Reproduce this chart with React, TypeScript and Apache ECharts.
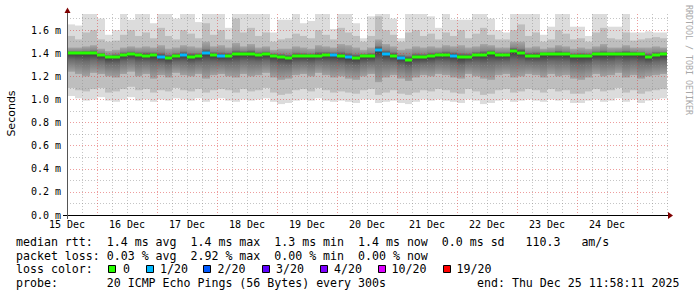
import React, { useEffect, useRef } from 'react';
import * as echarts from 'echarts';

// ---- data ----
const dayLabels = ['15 Dec', '16 Dec', '17 Dec', '18 Dec', '19 Dec', '20 Dec', '21 Dec', '22 Dec', '23 Dec', '24 Dec'];
const stepHours = 3;

const median = [
  1.40, 1.40, 1.40, 1.40, 1.385, 1.365, 1.37, 1.385, 1.39, 1.385,
  1.38, 1.385, 1.37, 1.36, 1.375, 1.385, 1.37, 1.375, 1.40, 1.385,
  1.375, 1.38, 1.39, 1.395, 1.395, 1.385, 1.39, 1.38, 1.37, 1.36,
  1.375, 1.375, 1.375, 1.38, 1.385, 1.385, 1.375, 1.365, 1.36, 1.375,
  1.375, 1.43, 1.395, 1.38, 1.36, 1.345, 1.365, 1.365, 1.375, 1.385,
  1.385, 1.38, 1.365, 1.37, 1.385, 1.385, 1.40, 1.385, 1.385, 1.42,
  1.405, 1.38, 1.38, 1.39, 1.39, 1.395, 1.39, 1.375, 1.375, 1.375,
  1.39, 1.39, 1.39, 1.395, 1.395, 1.395, 1.39, 1.37, 1.385, 1.39,
];
const lostPings = [
  0, 0, 0, 0, 0, 0, 0, 0, 0, 0,
  0, 0, 1, 0, 0, 1, 0, 0, 1, 0,
  1, 0, 0, 0, 0, 0, 0, 0, 0, 0,
  0, 0, 0, 0, 0, 1, 0, 1, 0, 0,
  0, 1, 1, 0, 1, 0, 0, 0, 0, 0,
  0, 1, 0, 0, 0, 0, 0, 0, 0, 0,
  0, 0, 0, 0, 0, 0, 0, 0, 0, 0,
  0, 0, 0, 0, 0, 0, 0, 0, 0, 0,
];
const smokeTop = [
  1.65, 1.64, 1.74, 1.74, 1.70, 1.56, 1.60, 1.74, 1.69, 1.74,
  1.74, 1.66, 1.74, 1.74, 1.70, 1.74, 1.74, 1.67, 1.74, 1.74,
  1.74, 1.62, 1.74, 1.74, 1.74, 1.74, 1.74, 1.58, 1.69, 1.69,
  1.74, 1.66, 1.68, 1.74, 1.74, 1.61, 1.74, 1.74, 1.66, 1.53,
  1.72, 1.74, 1.74, 1.70, 1.53, 1.74, 1.74, 1.74, 1.72, 1.62,
  1.74, 1.69, 1.69, 1.69, 1.74, 1.74, 1.70, 1.60, 1.58, 1.74,
  1.74, 1.74, 1.74, 1.56, 1.63, 1.74, 1.74, 1.63, 1.63, 1.55,
  1.74, 1.74, 1.63, 1.63, 1.74, 1.58, 1.58, 1.59, 1.58, 1.58,
];
const smokeMidHi = [
  1.55, 1.52, 1.58, 1.60, 1.52, 1.50, 1.51, 1.56, 1.60, 1.55,
  1.58, 1.53, 1.62, 1.55, 1.52, 1.60, 1.57, 1.53, 1.66, 1.56,
  1.60, 1.52, 1.70, 1.58, 1.62, 1.55, 1.58, 1.50, 1.52, 1.53,
  1.57, 1.55, 1.53, 1.60, 1.56, 1.52, 1.62, 1.58, 1.55, 1.50,
  1.55, 1.72, 1.60, 1.56, 1.50, 1.58, 1.60, 1.55, 1.57, 1.52,
  1.58, 1.55, 1.60, 1.53, 1.57, 1.62, 1.56, 1.52, 1.52, 1.60,
  1.65, 1.55, 1.58, 1.50, 1.52, 1.60, 1.57, 1.52, 1.53, 1.50,
  1.58, 1.62, 1.53, 1.52, 1.58, 1.51, 1.52, 1.53, 1.54, 1.53,
];
const smokeInHi = [
  1.45, 1.45, 1.46, 1.47, 1.44, 1.42, 1.43, 1.45, 1.46, 1.45,
  1.46, 1.45, 1.47, 1.44, 1.45, 1.47, 1.46, 1.45, 1.50, 1.46,
  1.47, 1.45, 1.49, 1.46, 1.48, 1.45, 1.46, 1.43, 1.44, 1.44,
  1.46, 1.45, 1.44, 1.47, 1.46, 1.45, 1.48, 1.47, 1.45, 1.43,
  1.45, 1.52, 1.48, 1.46, 1.43, 1.44, 1.46, 1.45, 1.46, 1.45,
  1.47, 1.46, 1.47, 1.45, 1.46, 1.48, 1.47, 1.45, 1.45, 1.50,
  1.50, 1.45, 1.46, 1.44, 1.45, 1.47, 1.46, 1.44, 1.45, 1.44,
  1.46, 1.48, 1.45, 1.45, 1.47, 1.45, 1.45, 1.45, 1.46, 1.45,
];
const smokeInLo = [
  1.24, 1.22, 1.20, 1.23, 1.22, 1.20, 1.19, 1.22, 1.24, 1.20,
  1.22, 1.18, 1.21, 1.19, 1.23, 1.21, 1.20, 1.22, 1.18, 1.21,
  1.22, 1.20, 1.19, 1.22, 1.20, 1.21, 1.23, 1.19, 1.17, 1.18,
  1.21, 1.22, 1.20, 1.23, 1.21, 1.19, 1.20, 1.18, 1.17, 1.20,
  1.22, 1.15, 1.19, 1.21, 1.18, 1.16, 1.19, 1.21, 1.20, 1.22,
  1.21, 1.19, 1.18, 1.22, 1.20, 1.18, 1.17, 1.21, 1.22, 1.19,
  1.20, 1.22, 1.21, 1.19, 1.22, 1.20, 1.21, 1.18, 1.17, 1.19,
  1.22, 1.20, 1.21, 1.23, 1.19, 1.21, 1.18, 1.20, 1.21, 1.22,
];
const smokeMidLo = [
  1.10, 1.08, 1.07, 1.09, 1.10, 1.06, 1.07, 1.09, 1.11, 1.08,
  1.09, 1.06, 1.08, 1.07, 1.10, 1.08, 1.07, 1.09, 1.06, 1.08,
  1.09, 1.08, 1.06, 1.09, 1.07, 1.08, 1.10, 1.06, 1.04, 1.05,
  1.08, 1.09, 1.07, 1.10, 1.08, 1.06, 1.07, 1.06, 1.05, 1.08,
  1.09, 1.04, 1.06, 1.08, 1.05, 1.04, 1.06, 1.08, 1.07, 1.09,
  1.08, 1.06, 1.05, 1.09, 1.07, 1.04, 1.05, 1.08, 1.09, 1.06,
  1.07, 1.09, 1.08, 1.06, 1.09, 1.07, 1.08, 1.05, 1.05, 1.07,
  1.09, 1.07, 1.08, 1.10, 1.06, 1.08, 1.05, 1.07, 1.08, 1.09,
];
const smokeBot = [
  1.03, 1.01, 0.99, 1.00, 1.02, 0.99, 0.98, 1.00, 1.02, 0.99,
  1.00, 0.98, 1.00, 0.99, 1.01, 1.00, 0.99, 1.01, 0.98, 1.00,
  1.01, 0.99, 0.98, 1.00, 0.99, 1.00, 1.01, 0.98, 0.96, 0.97,
  0.99, 1.00, 0.99, 1.01, 0.99, 0.98, 0.99, 0.98, 0.97, 1.00,
  1.00, 0.97, 0.98, 0.99, 0.97, 0.96, 0.98, 1.00, 0.99, 1.00,
  0.99, 0.98, 0.97, 1.00, 0.99, 0.96, 0.97, 0.99, 1.00, 0.98,
  0.99, 1.00, 0.99, 0.98, 1.00, 0.99, 1.00, 0.97, 0.97, 0.99,
  1.00, 0.98, 0.99, 1.01, 0.98, 1.00, 0.97, 0.99, 1.00, 1.01,
];

const lossThresholds = [0, 1, 2, 3, 4, 10, 19];
const lossLabels = ['0', '1/20', '2/20', '3/20', '4/20', '10/20', '19/20'];
const lossColors = ['#26ff00', '#00b8ff', '#0059ff', '#5e00ff', '#7e00ff', '#dd00ff', '#ff0000'];

const statNames = ['avg', 'max', 'min', 'now'];
const rttValues = ['1.4', '1.4', '1.3', '1.4'];
const rttSd = '0.0';
const rttAmS = '110.3';
const lossValues = ['0.03', '2.92', '0.00', '0.00'];
const probeText = '20 ICMP Echo Pings (56 Bytes) every 300s';
const endText = 'end: Thu Dec 25 11:58:11 2025';

// ---- helpers ----
const MONO = '"DejaVu Sans Mono", monospace';
const lossColorFor = (n: number) => {
  let c = lossColors[0];
  lossThresholds.forEach((t, i) => { if (n >= t) c = lossColors[i]; });
  return c;
};

const bandSeries = (lo: number[], hi: number[], fill: any) => ({
  type: 'custom',
  z: 1,
  silent: true,
  clip: true,
  encode: { x: [0, 1], y: [2, 3] },
  data: lo.map((l, i) => [i * stepHours, (i + 1) * stepHours, l, hi[i]]),
  renderItem: (_p: any, api: any) => {
    const a = api.coord([api.value(0), api.value(3)]);
    const b = api.coord([api.value(1), api.value(2)]);
    const x0 = Math.round(a[0]);
    const x1 = Math.round(b[0]);
    return { type: 'rect', shape: { x: x0, y: a[1], width: x1 - x0, height: b[1] - a[1] }, style: { fill } };
  },
});

export default function App() {
  const ref = useRef<HTMLDivElement>(null);
  useEffect(() => {
    if (!ref.current) return;
    const chart = echarts.init(ref.current, undefined, { renderer: 'svg' });

    const upperGrad = new echarts.graphic.LinearGradient(0, 0, 0, 1, [
      { offset: 0, color: '#a6a6a6' },
      { offset: 0.6, color: '#888888' },
      { offset: 1, color: '#3a3a3a' },
    ]);
    const lowerGrad = new echarts.graphic.LinearGradient(0, 0, 0, 1, [
      { offset: 0, color: '#3a3a3a' },
      { offset: 0.35, color: '#6c6c6c' },
      { offset: 1, color: '#a2a2a2' },
    ]);

    const line1 = 'median rtt:  ' + rttValues.map((v, i) => `${v} ms ${statNames[i]}`).join('  ') + `  ${rttSd} ms sd   ${rttAmS}   am/s`;
    const line2 = 'packet loss: ' + lossValues.map((v, i) => `${v} % ${statNames[i]}`).join('  ');
    const line4 = 'probe:       ' + probeText;

    const boxX = [108.5, 146.5, 203.5, 262.5, 320.5, 378.5, 443.5];
    const labX = [123, 160, 217.5, 276, 334, 391.5, 456.5];

    const txt = (x: number, y: number, text: string, extra: any = {}) => ({
      type: 'text', x, y, silent: true,
      style: { text, fill: '#000', font: `11.6px ${MONO}`, align: 'left', verticalAlign: 'middle', ...extra },
    });

    const graphics: any[] = [
      // axes + arrows
      { type: 'line', silent: true, z: 50, shape: { x1: 63, y1: 215.5, x2: 669, y2: 215.5 }, style: { stroke: '#000', lineWidth: 1 } },
      { type: 'polygon', silent: true, z: 50, shape: { points: [[668, 212], [673, 215.5], [668, 219]] }, style: { fill: '#7f0000' } },
      { type: 'line', silent: true, z: 50, shape: { x1: 67.5, y1: 219, x2: 67.5, y2: 12 }, style: { stroke: '#555', lineWidth: 1 } },
      { type: 'polygon', silent: true, z: 50, shape: { points: [[64.5, 13], [67.5, 7.5], [70.5, 13]] }, style: { fill: '#7f0000' } },
      // titles
      {
        type: 'text', x: 11.5, y: 113.5, rotation: Math.PI / 2, silent: true,
        style: { text: 'Seconds', fill: '#000', font: '11px "DejaVu Sans", sans-serif', align: 'center', verticalAlign: 'middle' },
      },
      {
        type: 'text', x: 688.5, y: 60, rotation: -Math.PI / 2, silent: true,
        style: { text: 'RRDTOOL / TOBI OETIKER', fill: '#a8a8a8', font: `8.3px ${MONO}`, align: 'center', verticalAlign: 'middle' },
      },
      txt(16, 242, line1),
      txt(16, 255.5, line2),
      txt(16, 269, 'loss color:'),
      txt(16, 283, line4),
      txt(477, 283, endText),
    ];
    lossLabels.forEach((l, i) => {
      graphics.push({
        type: 'rect', silent: true,
        shape: { x: boxX[i], y: 265.5, width: 7, height: 7 },
        style: { fill: lossColors[i], stroke: '#000', lineWidth: 1 },
      });
      graphics.push(txt(labX[i], 269, l));
    });

    const nMinorX = 4; // pattern: minor,minor,major,minor per 24h with 6h steps
    const minorC = 'rgba(140,140,140,0.5)';
    const majorC = 'rgba(222,60,60,0.5)';

    chart.setOption({
      animation: false,
      backgroundColor: '#ffffff',
      grid: { left: 67, top: 14, width: 601, height: 201, containLabel: false },
      xAxis: {
        type: 'value', min: 0, max: 240.4, interval: 6, z: 2,
        axisLine: { show: false }, axisTick: { show: false },
        axisLabel: {
          show: true, margin: 4, color: '#000', fontFamily: MONO, fontSize: 10,
          showMaxLabel: false,
          formatter: (v: number) => (Math.abs(v % 24) < 1e-6 ? dayLabels[Math.round(v / 24)] ?? '' : ''),
        },
        splitLine: {
          show: true, showMaxLine: false,
          lineStyle: { color: Array.from({ length: nMinorX }, (_, i) => (i === 2 ? majorC : minorC)), type: [1, 2], width: 1 },
        },
      },
      yAxis: {
        type: 'value', min: 0, max: 1.74, interval: 0.1, z: 2,
        axisLine: { show: false }, axisTick: { show: false },
        axisLabel: {
          show: true, margin: 6, color: '#000', fontFamily: MONO, fontSize: 10,
          formatter: (v: number) => {
            const k = v * 5;
            return Math.abs(k - Math.round(k)) < 1e-6 && v <= 1.6001 ? `${v.toFixed(1)} m` : '';
          },
        },
        splitLine: {
          show: true, showMaxLine: false,
          lineStyle: { color: [majorC, minorC], type: [1, 2], width: 1 },
        },
      },
      series: [
        bandSeries(smokeBot, smokeTop, '#dcdcdc'),
        bandSeries(smokeMidLo, smokeMidHi, '#bebebe'),
        bandSeries(median, smokeInHi, upperGrad),
        bandSeries(smokeInLo, median, lowerGrad),
        {
          type: 'custom', z: 5, silent: true, clip: true,
          encode: { x: [0, 1], y: 2 },
          data: median.map((m, i) => [i * stepHours, (i + 1) * stepHours, m, lostPings[i]]),
          renderItem: (_p: any, api: any) => {
            const a = api.coord([api.value(0), api.value(2)]);
            const b = api.coord([api.value(1), api.value(2)]);
            const x0 = Math.round(a[0]);
            const x1 = Math.round(b[0]);
            return {
              type: 'rect',
              shape: { x: x0, y: Math.round(a[1]) - 1.5, width: x1 - x0, height: 3 },
              style: { fill: lossColorFor(api.value(3)) },
            };
          },
        },
      ],
      graphic: graphics,
    });
    return () => chart.dispose();
  }, []);

  return (
    <div
      ref={ref}
      style={{ position: 'fixed', left: 0, top: 0, width: 697, height: 297, background: '#fff' }}
    />
  );
}
